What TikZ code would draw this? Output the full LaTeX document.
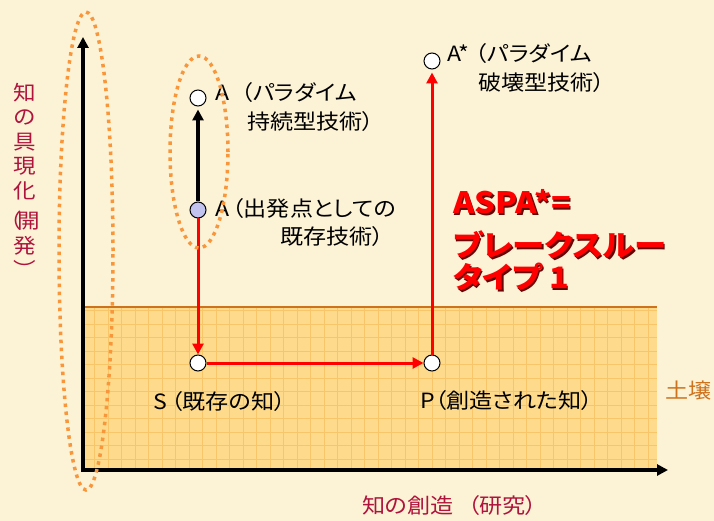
\documentclass[tikz,border=0pt]{standalone}
\usepackage{fontspec}
\setmainfont{Noto Sans CJK JP}[RawFeature=+palt,FakeStretch=1.1]
\usetikzlibrary{arrows.meta}
\definecolor{paper}{RGB}{252,242,214}
\definecolor{soil}{RGB}{253,218,140}
\definecolor{soilgrid}{RGB}{248,198,105}
\definecolor{soilline}{RGB}{205,115,30}
\definecolor{wine}{RGB}{175,20,60}
\definecolor{ringc}{RGB}{248,150,60}
\definecolor{startblue}{RGB}{195,195,240}
\definecolor{shadowred}{RGB}{100,0,0}
\begin{document}
\begin{tikzpicture}[x=1pt,y=-1pt,>={Triangle[length=11pt,width=11pt]},
	pt/.style={circle,draw=black,line width=1pt,fill=white,minimum size=16pt,inner sep=0pt},
	txt/.style={anchor=west,inner sep=0pt,font=\fontsize{21}{25}\selectfont},
	bigred/.style={anchor=west,inner sep=0pt,font=\fontsize{29.5}{34}\selectfont\bfseries},
	ring/.style={draw=ringc,line width=3.5pt,dash pattern=on 3.5pt off 4.5pt}]
	\useasboundingbox[fill=paper] (0,0) rectangle (714,521);
	% soil
	\fill[soil] (83,307) rectangle (657,470);
	\draw[soilgrid,line width=0.6pt,step=13.5pt] (83,470) grid (657,307);
	\draw[soilline,line width=2pt] (83,307) -- (657,307);
	\node[txt,soilline] (soillab) at (665,391) {土壌};
	% axes
	\coordinate (O) at (83,470);
	\coordinate (ytip) at (83,37);
	\coordinate (xtip) at (668,470);
	\draw[<->,line width=3.5pt] (ytip) -- (O) -- (xtip);
	\node[wine,font=\fontsize{20.5}{24.5}\selectfont,align=center,anchor=north,inner sep=0pt] (ylab) at (25,83) {知\\の\\具\\現\\化\\[6pt]（\kern-3.5pt開\\発\\︶};
	\node[txt,wine] (xlab) at (362,506) {知の創造\hspace{14pt}（研究）};
	% points
	\node[pt] (A) at (198,98) {};
	\node[pt,fill=startblue] (A0) at (198,210) {};
	\node[pt] (As) at (432,61) {};
	\node[pt] (S) at (198,363) {};
	\node[pt] (P) at (432,363) {};
	\draw[->,line width=3.5pt,shorten >=3pt] (A0) -- (A);
	\draw[->,red,line width=3pt] (A0) -- (S);
	\draw[->,red,line width=3pt] (S) -- (P);
	\draw[->,red,line width=3pt,shorten >=3pt] (P) -- (As);
	% labels
	\node[txt] (lA1) at (215,93) {A\hspace{12pt}（パラダイム};
	\node[txt] (lA2) at (247,122) {持続型技術）};
	\node[txt] (lA01) at (215,209) {A\hspace{3pt}（出発点としての};
	\node[txt] (lA02) at (280,237) {既存技術）};
	\node[txt] (lAs1) at (447,54) {A*\hspace{6pt}（パラダイム};
	\node[txt] (lAs2) at (478,83) {破壊型技術）};
	\node[txt] (lS) at (153,402) {S\hspace{4pt}（既存の知）};
	\node[txt] (lP) at (420,401) {P（創造された知）};
	% breakthrough
	\node[bigred,shadowred] (b1s) at (454.5,203.5) {ASPA*=};
	\node[bigred,red] (b1) at (453,202) {ASPA*=};
	\node[bigred,shadowred] (b2s) at (454.5,246.5) {ブレークスルー};
	\node[bigred,red] (b2) at (453,245) {ブレークスルー};
	\node[bigred,shadowred] (b3s) at (454.5,278.5) {タイプ 1};
	\node[bigred,red] (b3) at (453,277) {タイプ 1};
	% rings
	\draw[ring] (86,251) ellipse[x radius=27pt,y radius=239pt];
	\draw[ring] (199,152) ellipse[x radius=29pt,y radius=96pt];
\end{tikzpicture}
\end{document}
